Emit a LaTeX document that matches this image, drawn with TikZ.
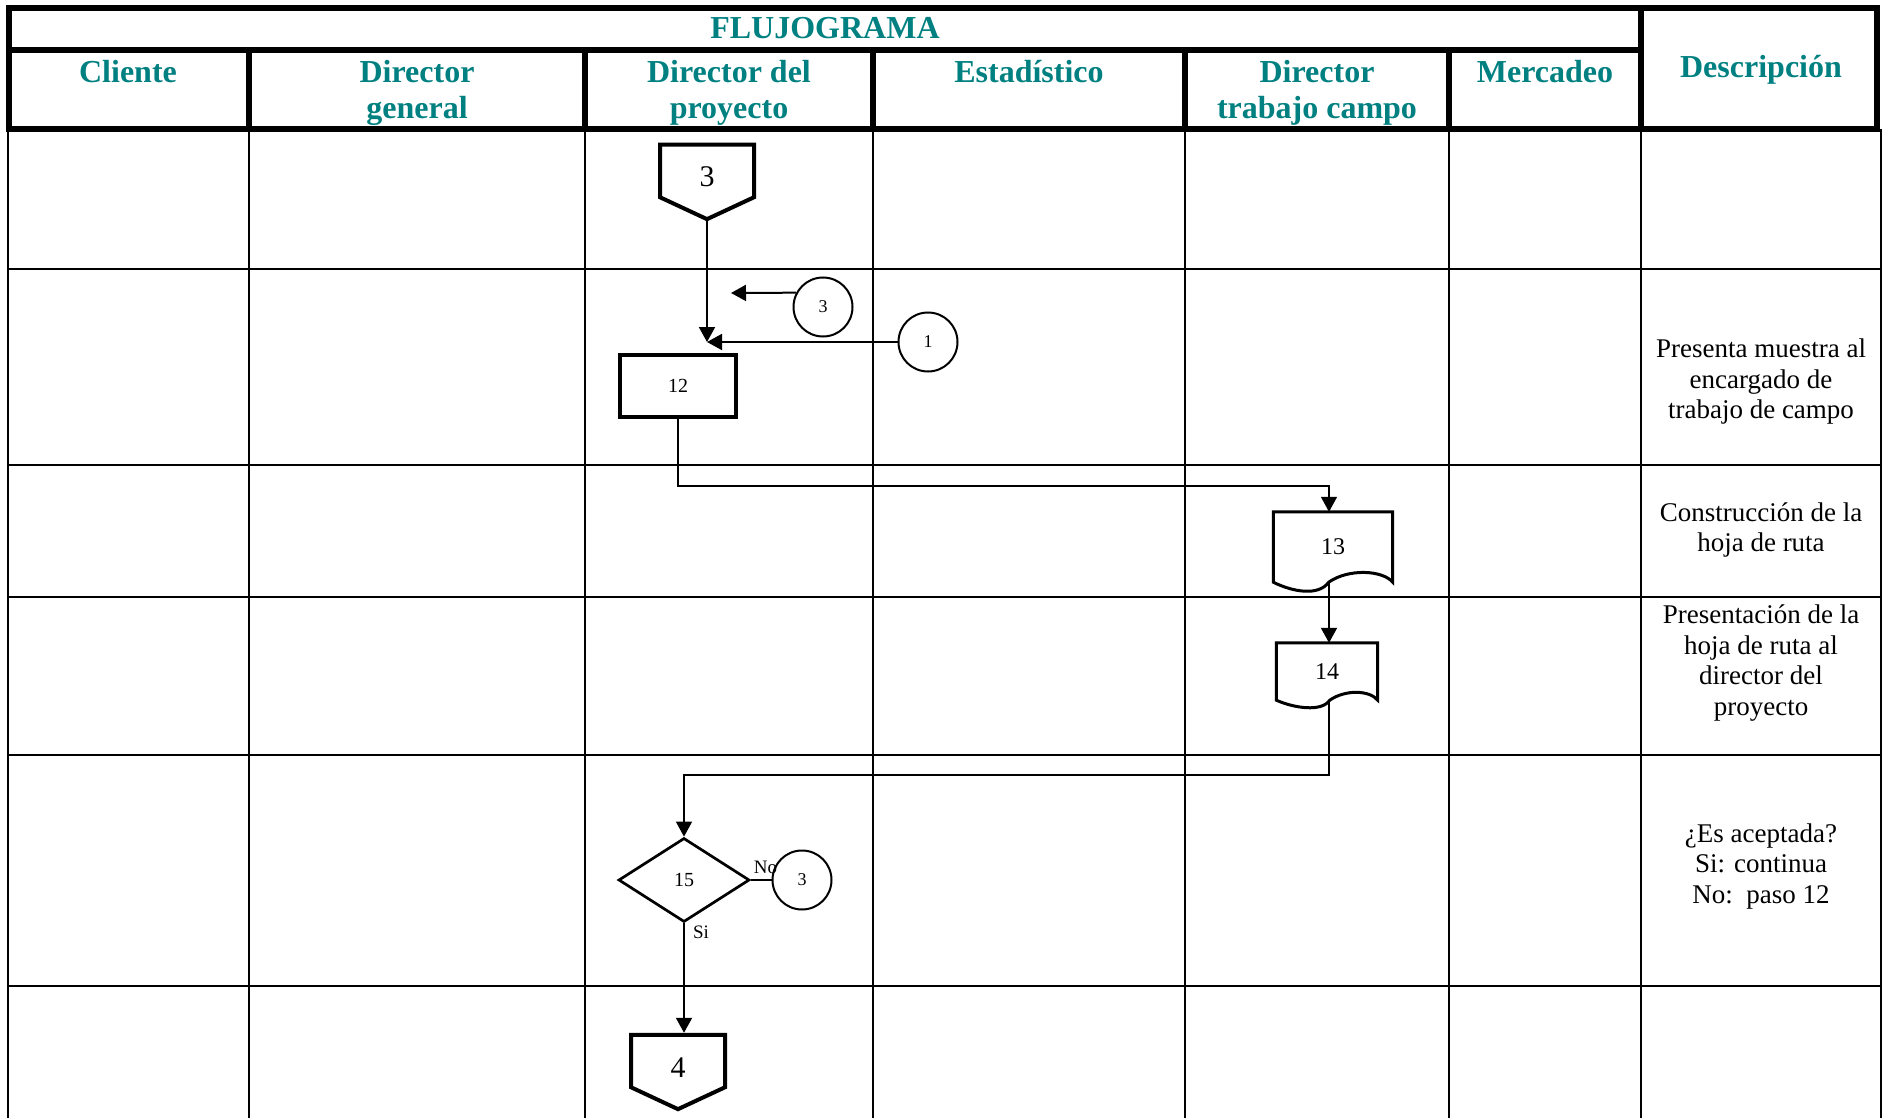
\documentclass[tikz,border=0pt]{standalone}
\usepackage{fontspec}
\setmainfont{Liberation Serif}
\usepackage{tikz}
\usetikzlibrary{shapes,arrows.meta,positioning}
\definecolor{HeadTeal}{RGB}{0,128,128}

\begin{document}
\begin{tikzpicture}[x=1pt, y=-1pt]
			\tikzstyle{Heavy}	= [line width=6pt]
			\tikzstyle{Thin}	= [line width=1.6pt]
			\tikzstyle{Head}	= [align=center, inner sep=0pt, text=HeadTeal, font=\fontsize{32}{36}\selectfont\bfseries]
			\tikzstyle{Desc}	= [align=center, inner sep=0pt, font=\fontsize{27}{30.5}\selectfont]
			\tikzstyle{OffPage}	= [signal, signal to=south, signal pointer angle=130, draw, line width=4pt, minimum width=94pt, minimum height=56pt, inner sep=0pt, text height=32pt, text depth=0pt, font=\fontsize{30}{34}\selectfont]
			\tikzstyle{Proc}	= [rectangle, draw, line width=4pt, minimum width=116pt, minimum height=62pt, inner sep=0pt, font=\fontsize{20}{24}\selectfont]
			\tikzstyle{Doc}		= [rectangle, inner sep=0pt, font=\fontsize{24}{28}\selectfont]
			\tikzstyle{DocLine}	= [line width=3pt, line join=miter]
			\tikzstyle{Decision}	= [diamond, draw, line width=2.7pt, minimum width=131pt, minimum height=84pt, inner sep=0pt, font=\fontsize{20}{24}\selectfont]
			\tikzstyle{Conn}	= [circle, draw, line width=2pt, minimum size=59pt, inner sep=0pt, font=\fontsize{18}{22}\selectfont]
			\tikzstyle{Arrow}	= [line width=2pt, -{Triangle[length=15pt, width=16pt]}]
			\tikzstyle{Link}	= [line width=1.5pt, -{Triangle[length=15pt, width=16pt]}]
			\tikzstyle{Small}	= [inner sep=2pt, font=\fontsize{19}{22}\selectfont]

			\useasboundingbox (0,0) rectangle (1885,1118);

			% table
			\draw [Heavy] (9,8) rectangle (1877,129);
			\draw [Heavy] (9,50) -- (1641,50);
			\draw [Heavy] (1641,8) -- (1641,129);
			\foreach \x in {249,585,873,1185,1449}
				\draw [Heavy] (\x,50) -- (\x,129);
			\foreach \x in {8,249,585,873,1185,1449,1641,1881}
				\draw [Thin] (\x,129) -- (\x,1118);
			\foreach \y in {269,465,597,755,986}
				\draw [Thin] (8,\y) -- (1881,\y);

			\node (title) at (825,28) [Head] {FLUJOGRAMA};
			\node (hcli) at (128,72) [Head] {Cliente};
			\node (hdg) at (417,93) [Head] {Director\\general};
			\node (hdp) at (729,93) [Head] {Director del\\proyecto};
			\node (hest) at (1029,72) [Head] {Estadístico};
			\node (hdtc) at (1317,93) [Head] {Director\\trabajo campo};
			\node (hmer) at (1545,72) [Head] {Mercadeo};
			\node (hdes) at (1761,70) [Head] {Descripción};

			\node (t12) at (1761,382) [Desc] {Presenta muestra al\\encargado de\\trabajo de campo};
			\node (t13) at (1761,530) [Desc] {Construcción de la\\hoja de ruta};
			\node (t14) at (1761,663) [Desc] {Presentación de la\\hoja de ruta al\\director del\\proyecto};
			\node (t15) at (1761,866) [Desc] {¿Es aceptada?\\Si: continua\\No:\ \ paso 12};

			% flow
			\node (off3) at (707,171) [OffPage] {3};
			\node (c3a) at (823,307) [Conn] {3};
			\node (c1) at (928,342) [Conn] {1};
			\node (r12) at (678,386) [Proc] {12};
			\coordinate (j12) at (707,342);
			\coordinate (e3) at (731,293);
			\node (d13) at (1333,547) [Doc, minimum width=119pt, minimum height=70pt] {13};
			\node (d14) at (1327,671.5) [Doc, minimum width=101pt, minimum height=57pt] {14};
			\node (q15) at (684,880) [Decision] {15};
			\node (c3b) at (802,880) [Conn] {3};
			\node (off4) at (678,1061) [OffPage] {4};

			\draw [DocLine] (d13.south west) -- (d13.north west) -- (d13.north east) -- (d13.south east)
				.. controls +(-10,-12) and +(20,-14) .. ++(-64,0)
				.. controls +(-10,14) and +(20,10) .. (d13.south west) -- cycle;
			\draw [DocLine] (d14.south west) -- (d14.north west) -- (d14.north east) -- (d14.south east)
				.. controls +(-8,-10) and +(16,-11) .. ++(-48,0)
				.. controls +(-8,12) and +(18,8) .. (d14.south west) -- cycle;

			\draw (off3.south) -- (j12) [Arrow];
			\draw (c1) -- (j12) [Arrow];
			\draw (c3a.152) -- (e3) [Arrow];
			\draw (r12.south) -- ++(0,67) -| ([xshift=-4pt]d13.north) [Link];
			\draw ([xshift=-4pt]d13.south) -- ([xshift=2pt]d14.north) [Arrow];
			\draw ([xshift=2pt]d14.south) -- ++(0,75) -| (q15.north) [Link];
			\draw [line width=2pt] (q15.east) -- node[pos=0, anchor=south west, Small, yshift=3pt] (lno) {No} (c3b);
			\draw [Arrow] (q15.south) -- node[pos=0, anchor=north west, Small, xshift=6pt] (lsi) {Si} (q15.south |- off4.north);
		\end{tikzpicture}
\end{document}
